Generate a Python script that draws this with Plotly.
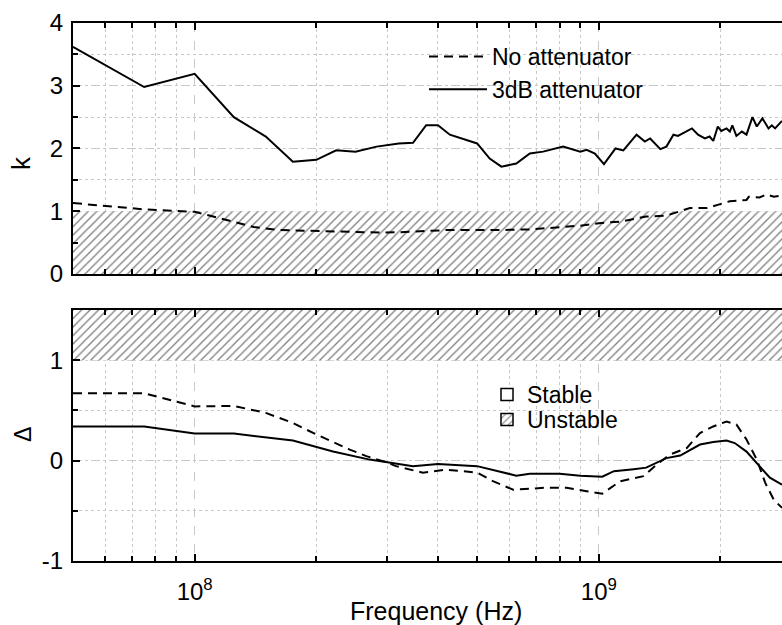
import numpy as np
import plotly.graph_objects as go
from plotly.subplots import make_subplots

# axis limits (Hz) and stability thresholds
F_MIN = 5.0e7
F_MAX = 2.84e9
K_LIMIT = 1.0
DELTA_LIMIT = 1.0
K_RANGE = [0, 4]
DELTA_RANGE = [-1, 1.5]

# stability factor k, no attenuator
f_k0 = [5.0e7, 7.5e7, 1.0e8, 1.2e8, 1.4e8, 1.62e8, 2.0e8, 2.42e8, 2.87e8, 3.2e8,
        4.2e8, 5.58e8, 6.75e8, 8.0e8, 9.0e8, 1.0e9, 1.13e9, 1.31e9, 1.47e9, 1.68e9,
        1.85e9, 2.11e9, 2.32e9, 2.35e9, 2.5e9, 2.6e9, 2.71e9, 2.84e9]
k0 = [1.13, 1.03, 0.99, 0.86, 0.75, 0.70, 0.685, 0.665, 0.66, 0.665,
      0.70, 0.70, 0.71, 0.745, 0.77, 0.81, 0.835, 0.915, 0.93, 1.05,
      1.05, 1.16, 1.18, 1.23, 1.22, 1.27, 1.23, 1.25]

# stability factor k, 3dB attenuator
f_k3 = [5.0e7, 7.5e7, 1.0e8, 1.25e8, 1.5e8, 1.75e8, 2.0e8, 2.24e8, 2.5e8, 2.82e8,
        3.2e8, 3.47e8, 3.74e8, 4.0e8, 4.28e8, 4.53e8, 5.0e8, 5.37e8, 5.74e8, 6.25e8,
        6.75e8, 7.28e8, 8.16e8, 9.0e8, 9.33e8, 9.78e8, 1.03e9, 1.1e9, 1.15e9, 1.24e9,
        1.3e9, 1.34e9, 1.42e9, 1.47e9, 1.53e9, 1.57e9, 1.62e9, 1.7e9, 1.76e9, 1.83e9,
        1.88e9, 1.92e9, 1.97e9, 2.01e9, 2.07e9, 2.11e9, 2.14e9, 2.19e9, 2.26e9, 2.32e9,
        2.4e9, 2.46e9, 2.54e9, 2.63e9, 2.68e9, 2.73e9, 2.84e9]
k3 = [3.62, 2.98, 3.19, 2.50, 2.19, 1.79, 1.82, 1.97, 1.95, 2.03,
      2.08, 2.09, 2.37, 2.37, 2.22, 2.17, 2.08, 1.84, 1.71, 1.76,
      1.92, 1.95, 2.03, 1.95, 1.98, 1.92, 1.75, 2.00, 1.97, 2.22,
      2.11, 2.16, 1.99, 2.03, 2.22, 2.20, 2.25, 2.32, 2.22, 2.16,
      2.19, 2.12, 2.35, 2.28, 2.32, 2.27, 2.37, 2.20, 2.27, 2.22,
      2.50, 2.35, 2.48, 2.32, 2.37, 2.32, 2.44]

# |Delta|, no attenuator
f_d0 = [5.0e7, 7.5e7, 1.0e8, 1.25e8, 1.5e8, 1.75e8, 2.0e8, 2.42e8, 2.66e8, 3.0e8,
        3.15e8, 3.67e8, 4.2e8, 5.0e8, 5.47e8, 6.14e8, 7.41e8, 8.32e8, 9.33e8, 1.02e9,
        1.13e9, 1.29e9, 1.39e9, 1.5e9, 1.65e9, 1.78e9, 1.92e9, 2.07e9, 2.19e9, 2.32e9,
        2.46e9, 2.58e9, 2.71e9, 2.84e9]
d0 = [0.67, 0.67, 0.54, 0.545, 0.475, 0.375, 0.26, 0.11, 0.045, -0.02,
      -0.055, -0.12, -0.09, -0.12, -0.205, -0.29, -0.27, -0.27, -0.305, -0.33,
      -0.205, -0.155, -0.04, 0.06, 0.125, 0.275, 0.34, 0.39, 0.36, 0.21,
      0.01, -0.22, -0.39, -0.47]

# |Delta|, 3dB attenuator
f_d3 = [5.0e7, 7.5e7, 1.0e8, 1.25e8, 1.75e8, 2.2e8, 2.71e8, 3.21e8, 3.47e8, 4.0e8,
        5.0e8, 6.25e8, 6.75e8, 8.0e8, 9.0e8, 1.02e9, 1.09e9, 1.22e9, 1.31e9, 1.47e9,
        1.59e9, 1.78e9, 1.92e9, 2.07e9, 2.17e9, 2.32e9, 2.5e9, 2.65e9, 2.84e9]
d3 = [0.34, 0.34, 0.27, 0.27, 0.20, 0.09, 0.01, -0.035, -0.055, -0.035,
      -0.055, -0.15, -0.13, -0.13, -0.15, -0.16, -0.105, -0.085, -0.07, 0.025,
      0.05, 0.16, 0.185, 0.20, 0.175, 0.09, -0.06, -0.17, -0.24]

FONT = "Liberation Sans, Arial, sans-serif"
GRID = "#c8c8c8"
HATCH = dict(shape="/", fgcolor="black", bgcolor="white", size=6, solidity=0.22)

fig = make_subplots(rows=2, cols=1, shared_xaxes=True, vertical_spacing=0.067)

# unstable regions (hatched)
fig.add_trace(go.Scatter(x=[F_MIN, F_MAX, F_MAX, F_MIN], y=[K_RANGE[0], K_RANGE[0], K_LIMIT, K_LIMIT],
                         fill="toself", fillpattern=HATCH, line=dict(width=0), mode="lines",
                         showlegend=False, hoverinfo="skip"), row=1, col=1)
fig.add_trace(go.Scatter(x=[F_MIN, F_MAX, F_MAX, F_MIN], y=[DELTA_LIMIT, DELTA_LIMIT, DELTA_RANGE[1], DELTA_RANGE[1]],
                         fill="toself", fillpattern=HATCH, line=dict(width=0), mode="lines",
                         showlegend=False, hoverinfo="skip"), row=2, col=1)

# k curves
fig.add_trace(go.Scatter(x=f_k0, y=k0, mode="lines", name="No attenuator",
                         line=dict(color="black", width=2, dash="9px,6px"), legend="legend"), row=1, col=1)
fig.add_trace(go.Scatter(x=f_k3, y=k3, mode="lines", name="3dB attenuator",
                         line=dict(color="black", width=2), legend="legend"), row=1, col=1)

# delta curves
fig.add_trace(go.Scatter(x=f_d0, y=d0, mode="lines", showlegend=False,
                         line=dict(color="black", width=2, dash="9px,6px")), row=2, col=1)
fig.add_trace(go.Scatter(x=f_d3, y=d3, mode="lines", showlegend=False,
                         line=dict(color="black", width=2)), row=2, col=1)

# stable / unstable legend entries (one legend each, to control spacing)
fig.add_trace(go.Bar(x=[None], y=[None], name="Stable", legend="legend2",
                     marker=dict(color="white", line=dict(color="black", width=1.5))), row=2, col=1)
fig.add_trace(go.Bar(x=[None], y=[None], name="Unstable", legend="legend3",
                     marker=dict(color="white", line=dict(color="black", width=1.5), pattern=HATCH)), row=2, col=1)

minor_f = [m * 10.0 ** e for e in (7, 8, 9) for m in range(2, 10)]
xstyle = dict(type="log", range=[np.log10(F_MIN), np.log10(F_MAX)],
              showline=True, linecolor="black", linewidth=2, mirror="ticks",
              ticks="inside", ticklen=7, tickwidth=1.5, tickcolor="black",
              tickvals=[1e8, 1e9], ticktext=["10<sup>8</sup>", "10<sup>9</sup>"],
              showgrid=True, gridcolor=GRID, griddash="dash", gridwidth=1,
              minor=dict(tickvals=minor_f, ticks="inside", ticklen=5, tickcolor="black",
                         showgrid=True, gridcolor=GRID, griddash="dot"),
              tickfont=dict(size=24, family=FONT, color="black"), ticklabelstandoff=8)
fig.update_xaxes(**xstyle)

ystyle = dict(showline=True, linecolor="black", linewidth=2, mirror=False,
              ticks="inside", ticklen=7, tickwidth=1.5, tickcolor="black",
              showgrid=True, gridcolor=GRID, griddash="dash", gridwidth=1, zeroline=False,
              minor=dict(dtick=0.5, ticks="inside", ticklen=5, tickcolor="black",
                         showgrid=True, gridcolor=GRID, griddash="dot"),
              tickfont=dict(size=24, family=FONT, color="black"), ticklabelstandoff=3)
fig.update_yaxes(**ystyle)
fig.update_yaxes(range=K_RANGE, tickvals=[0, 1, 2, 3, 4], ticktext=["0", "1", "2", "3", "4"], row=1, col=1)
fig.update_yaxes(range=DELTA_RANGE, tickvals=[-1, 0, 1], ticktext=["-1", "0", "1"], row=2, col=1)

legend_common = dict(xref="container", yref="container", xanchor="left", yanchor="top",
                     font=dict(size=23), bgcolor="rgba(0,0,0,0)")
fig.update_layout(
    width=782, height=625,
    margin=dict(l=73, r=0, t=23, b=64, autoexpand=False),
    plot_bgcolor="white", paper_bgcolor="white",
    font=dict(family=FONT, color="black"),
    barmode="overlay",
    legend=dict(x=424 / 782, y=1 - 35 / 625, itemwidth=58, **legend_common),
    legend2=dict(x=487 / 782, y=1 - 373 / 625, **legend_common),
    legend3=dict(x=487 / 782, y=1 - 398 / 625, **legend_common),
    annotations=[
        dict(text="Frequency (Hz)", xref="paper", yref="paper", x=0.512, y=-0.093,
             xanchor="center", yanchor="middle", showarrow=False, font=dict(size=25)),
        dict(text="k", xref="paper", yref="paper", x=-0.0733, y=0.74, textangle=-90,
             xanchor="center", yanchor="middle", showarrow=False, font=dict(size=26)),
        dict(text="Δ", xref="paper", yref="paper", x=-0.0705, y=0.234, textangle=-90,
             xanchor="center", yanchor="middle", showarrow=False, font=dict(size=23)),
    ],
)

fig.write_html("out.html", config={"displayModeBar": False},
               post_script="document.body.style.margin='0';document.body.style.overflow='hidden';")
